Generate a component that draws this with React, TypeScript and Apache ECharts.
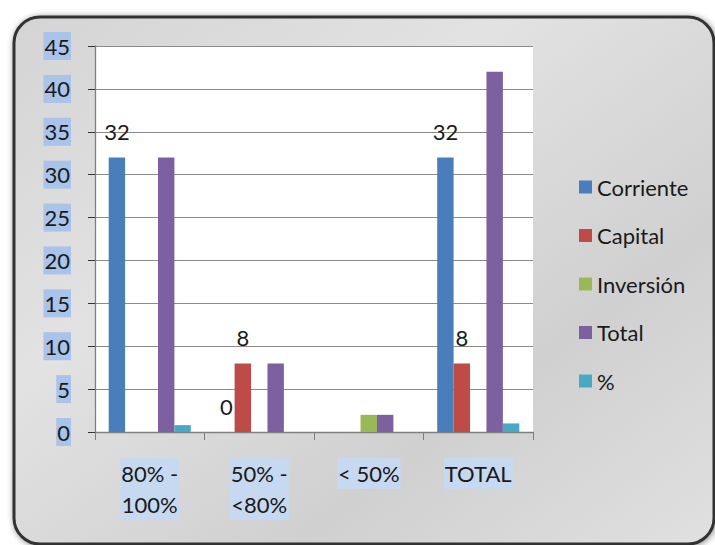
import React, { useEffect, useRef } from "react";
import * as echarts from "echarts";

const categories = ["80% -\n100%", "50% -\n<80%", "< 50%", "TOTAL"];
const corriente = [32, 0, null, 32];
const capital = [null, 8, null, 8];
const inversion = [null, null, 2, null];
const total = [32, 8, 2, 42];
const pct = [0.8, null, null, 1];
const seriesNames = ["Corriente", "Capital", "Inversión", "Total", "%"];
const colors = ["#4a7ebb", "#be4b48", "#98b954", "#7d60a0", "#46aac5"];
const yTicks = { min: 0, max: 45, interval: 5 };

const FONT = "Lato, 'Open Sans', sans-serif";
const FS = 22;

export default function App() {
  const ref = useRef<HTMLDivElement>(null);
  useEffect(() => {
    if (!ref.current) return;
    const chart = echarts.init(ref.current, null, { renderer: "svg" });
    const dataSets = [corriente, capital, inversion, total, pct];
    const labelled = [true, true, false, false, false];
    chart.setOption({
      animation: false,
      graphic: [
        {
          type: "rect",
          z: -10,
          silent: true,
          shape: { x: 14, y: 17, width: 700, height: 527, r: 26 },
          style: {
            fill: new echarts.graphic.LinearGradient(0, 0, 1, 1, [
              { offset: 0, color: "#d4d4d4" },
              { offset: 0.35, color: "#e2e2e2" },
              { offset: 0.7, color: "#d0d0d0" },
              { offset: 1, color: "#e0e0e0" },
            ]),
            stroke: "#333333",
            lineWidth: 3,
            shadowBlur: 6,
            shadowColor: "rgba(0,0,0,0.45)",
            shadowOffsetX: 1,
            shadowOffsetY: 1,
          },
        },
      ],
      grid: {
        left: 95,
        right: 182,
        top: 46,
        bottom: 113,
        show: true,
        backgroundColor: "#ffffff",
        borderWidth: 0,
      },
      legend: {
        orient: "vertical",
        left: 574,
        top: 171,
        itemWidth: 13,
        itemHeight: 13,
        itemGap: 26.5,
        icon: "rect",
        data: seriesNames,
        textStyle: { fontFamily: FONT, fontSize: FS, color: "#1a1a1a", padding: [0, 0, 0, 0] },
      },
      xAxis: {
        type: "category",
        data: categories,
        axisLine: { show: true, lineStyle: { color: "#7f7f7f", width: 1.3 } },
        axisTick: { show: true, alignWithLabel: false, length: 8, lineStyle: { color: "#7f7f7f" } },
        axisLabel: {
          fontFamily: FONT,
          fontSize: FS,
          color: "#1a1a1a",
          margin: 26,
          lineHeight: 31,
          backgroundColor: "#c6d9f1",
          padding: [0, 1, 0, 1],
        },
      },
      yAxis: {
        type: "value",
        min: yTicks.min,
        max: yTicks.max,
        interval: yTicks.interval,
        axisLine: { show: true, lineStyle: { color: "#7f7f7f", width: 1.3 } },
        axisTick: { show: true, length: 7, lineStyle: { color: "#333" } },
        splitLine: { show: true, lineStyle: { color: "#8a8a8a", width: 1 } },
        axisLabel: {
          fontFamily: FONT,
          fontSize: FS,
          color: "#1a1a1a",
          margin: 24,
          backgroundColor: "#a9c3ea",
          padding: [3, 1, 3, 1],
        },
      },
      series: dataSets.map((d, i) => ({
        name: seriesNames[i],
        type: "bar",
        data: d,
        barGap: "0%",
        barCategoryGap: "25%",
        itemStyle: { color: colors[i] },
        label: {
          show: labelled[i],
          position: "top",
          distance: 15,
          fontFamily: FONT,
          fontSize: FS,
          color: "#1a1a1a",
        },
      })),
    });
    return () => chart.dispose();
  }, []);
  return (
    <div
      ref={ref}
      style={{ position: "fixed", left: 0, top: 0, width: 715, height: 545, background: "#fff" }}
    />
  );
}
